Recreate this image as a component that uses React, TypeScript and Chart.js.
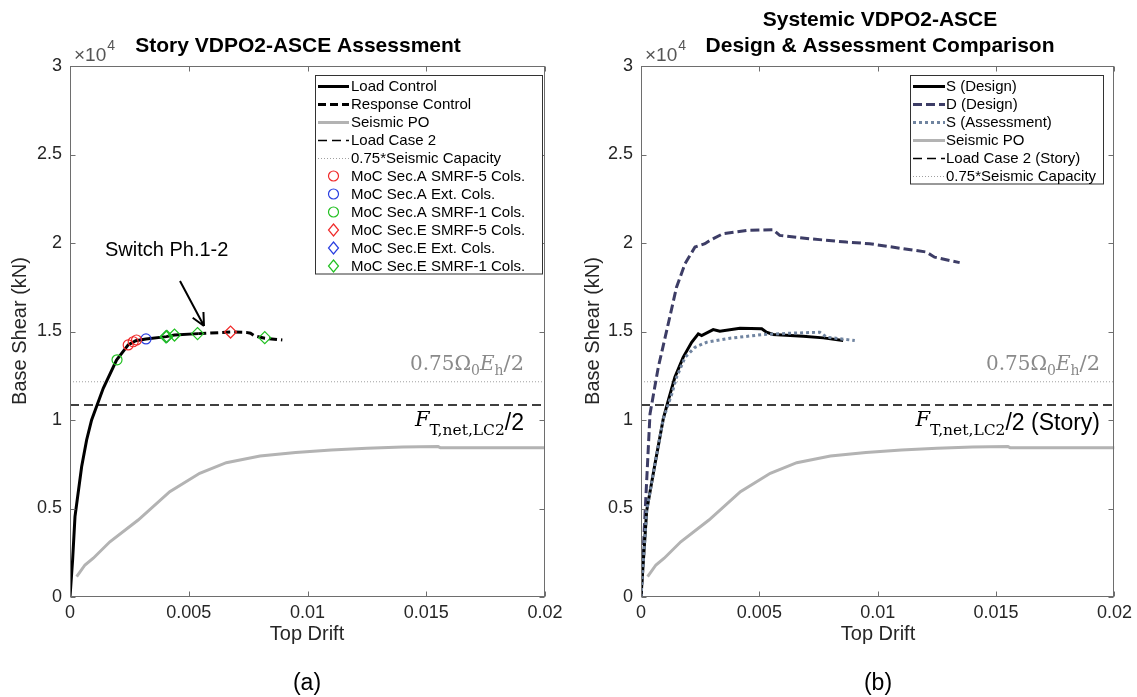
import React, { useEffect, useRef } from 'react';
import { Chart, registerables } from 'chart.js';
Chart.register(...registerables);

// ---------- axes ----------
const xTickValues = [0, 0.005, 0.01, 0.015, 0.02];
const xTickLabels = ['0', '0.005', '0.01', '0.015', '0.02'];
const yTickValues = [0, 5000, 10000, 15000, 20000, 25000, 30000];
const yTickLabels = ['0', '0.5', '1', '1.5', '2', '2.5', '3'];

// ---------- panel (a) ----------
const loadControlDrift = [0, 0.00011, 0.00021, 0.00049, 0.0007, 0.00091, 0.0014, 0.00196, 0.00245, 0.00277, 0.0032, 0.00406, 0.0044, 0.0054];
const loadControlShear = [0, 2090, 4540, 7360, 8870, 10000, 11790, 13390, 14240, 14480, 14580, 14710, 14800, 14880];
const responseControlDrift = [0.0054, 0.00676, 0.00742, 0.0076, 0.00777, 0.0082, 0.00894];
const responseControlShear = [14880, 14970, 14950, 14900, 14750, 14620, 14520];
const seismicPODrift = [0.00028, 0.00063, 0.00098, 0.00168, 0.00287, 0.0042, 0.00546, 0.00658, 0.008, 0.0095, 0.011, 0.0125, 0.014, 0.0155, 0.0156, 0.02];
const seismicPOShear = [1150, 1810, 2190, 3120, 4350, 5950, 6990, 7590, 7970, 8170, 8300, 8400, 8470, 8500, 8430, 8430];
const loadCase2Shear = 10850;
const seismicCapacityShear = 12160;

const secASmrf5Drift = [0.00245, 0.00266, 0.0028];
const secASmrf5Shear = [14240, 14420, 14520];
const secAExtDrift = [0.0032];
const secAExtShear = [14580];
const secASmrf1Drift = [0.00198];
const secASmrf1Shear = [13400];
const secESmrf5Drift = [0.00676];
const secESmrf5Shear = [14970];
const secEExtDrift = [0.00406];
const secEExtShear = [14710];
const secESmrf1Drift = [0.00404, 0.00408, 0.0044, 0.00537, 0.0082];
const secESmrf1Shear = [14700, 14720, 14800, 14880, 14650];

// ---------- panel (b) ----------
const sDesignDrift = [0, 0.00024, 0.00059, 0.00094, 0.00115, 0.00143, 0.00178, 0.00214, 0.00242, 0.00256, 0.00305, 0.00333, 0.00418, 0.0051, 0.0053, 0.00558, 0.00685, 0.0077, 0.00854];
const sDesignShear = [0, 4870, 7510, 10060, 11090, 12410, 13540, 14390, 14870, 14770, 15110, 15020, 15180, 15150, 14960, 14830, 14730, 14640, 14490];
const dDesignDrift = [0, 0.00017, 0.00038, 0.00073, 0.00115, 0.0015, 0.00186, 0.00228, 0.0027, 0.00291, 0.00347, 0.00446, 0.00558, 0.00586, 0.00713, 0.00868, 0.00966, 0.01107, 0.01205, 0.0124, 0.01346];
const dDesignShear = [0, 4680, 10340, 12980, 15430, 17500, 18830, 19770, 19960, 20150, 20530, 20710, 20750, 20430, 20240, 20050, 19960, 19680, 19490, 19200, 18890];
const sAssessDrift = [0, 0.00024, 0.00059, 0.00094, 0.0013, 0.0015, 0.00186, 0.00228, 0.00277, 0.00376, 0.00516, 0.00629, 0.00755, 0.00784, 0.00903];
const sAssessShear = [0, 4870, 7510, 10060, 11470, 12410, 13540, 14110, 14390, 14620, 14830, 14900, 14960, 14680, 14490];

const SANS = '"Liberation Sans", Arial, sans-serif';
const SERIF = '"DejaVu Serif", serif';
const TXT = '#262626';
const RED = '#f02a2a';
const GREEN = '#22c022';
const BLUE = '#2a3fe0';
const GRAY = '#b3b3b3';
const NAVY = '#3d3d66';
const SLATE = '#7084a0';

const pts = (xs: number[], ys: number[]) => xs.map((x, i) => ({ x, y: ys[i] }));
const hline = (v: number) => [{ x: 0, y: v }, { x: 0.02, y: v }];

const lineDs = (label: string, data: any[], color: string, width: number, dash: number[], order: number, rank: number) => ({
  label, data, showLine: true, borderColor: color, backgroundColor: color, borderWidth: width,
  borderDash: dash, pointRadius: 0, pointHoverRadius: 0, fill: false, tension: 0, order, legendRank: rank, legendKind: 'line',
});
const markDs = (label: string, data: any[], color: string, style: string, rank: number, order = 0) => ({
  label, data, showLine: false, borderColor: color, backgroundColor: 'rgba(0,0,0,0)',
  pointStyle: style, pointRadius: style === 'circle' ? 5 : 6, pointBorderWidth: 1.2, pointHoverRadius: 0,
  order, legendRank: rank, legendKind: style,
});

type Part = { t: string; f: string; dy?: number };
function drawRich(ctx: CanvasRenderingContext2D, parts: Part[], right: number, base: number, color: string) {
  let total = 0;
  for (const p of parts) { ctx.font = p.f; total += ctx.measureText(p.t).width; }
  let x = right - total;
  ctx.fillStyle = color; ctx.textAlign = 'left'; ctx.textBaseline = 'alphabetic';
  for (const p of parts) { ctx.font = p.f; ctx.fillText(p.t, x, base + (p.dy || 0)); x += ctx.measureText(p.t).width; }
}

const panelPlugin = {
  id: 'panel',
  afterDatasetsDraw(chart: any, _a: any, o: any) {
    const ctx: CanvasRenderingContext2D = chart.ctx;
    const a = chart.chartArea;
    const xs = chart.scales.x, ys = chart.scales.y;
    const ox = o.offsetX;
    ctx.save();
    // frame + inward ticks
    ctx.setLineDash([]);
    ctx.strokeStyle = '#6e6e6e';
    ctx.lineWidth = 1;
    const L = Math.round(a.left) + 0.5, R = Math.round(a.right) - 0.5, T = Math.round(a.top) + 0.5, B = Math.round(a.bottom) - 0.5;
    ctx.strokeRect(L, T, R - L, B - T);
    ctx.beginPath();
    for (const v of xTickValues) {
      const p = Math.round(xs.getPixelForValue(v)) + 0.5;
      ctx.moveTo(p, B); ctx.lineTo(p, B - 5); ctx.moveTo(p, T); ctx.lineTo(p, T + 5);
    }
    for (const v of yTickValues) {
      const p = Math.round(ys.getPixelForValue(v)) + 0.5;
      ctx.moveTo(L, p); ctx.lineTo(L + 5, p); ctx.moveTo(R, p); ctx.lineTo(R - 5, p);
    }
    ctx.stroke();

    // annotations
    drawRich(ctx, [
      { t: '0.75Ω', f: `20px ${SERIF}` }, { t: '0', f: `14px ${SERIF}`, dy: 5 },
      { t: 'E', f: `italic 20px ${SERIF}` }, { t: 'h', f: `14px ${SERIF}`, dy: 5 },
      { t: '/2', f: `21px ${SERIF}` },
    ], o.textRight - ox, 370, '#8a8a8a');
    drawRich(ctx, [
      { t: 'F', f: `italic 21px ${SERIF}` }, { t: 'T,net,LC2', f: `15.5px ${SERIF}`, dy: 9 },
      { t: o.fSuffix, f: `23px ${SANS}`, dy: 4 },
    ], o.textRight - ox, 426, '#000');

    if (o.arrow) {
      ctx.fillStyle = '#000';
      ctx.font = `20px ${SANS}`;
      ctx.textAlign = 'left'; ctx.textBaseline = 'alphabetic';
      ctx.fillText('Switch Ph.1-2', 105 - ox, 256);
      const x1 = 180 - ox, y1 = 281, x2 = 204 - ox, y2 = 326;
      const ang = Math.atan2(y2 - y1, x2 - x1);
      ctx.strokeStyle = '#000'; ctx.lineWidth = 2;
      ctx.beginPath(); ctx.moveTo(x1, y1); ctx.lineTo(x2, y2);
      for (const s of [-1, 1]) {
        ctx.moveTo(x2, y2);
        ctx.lineTo(x2 - 14 * Math.cos(ang + s * 0.45), y2 - 14 * Math.sin(ang + s * 0.45));
      }
      ctx.stroke();
    }

    // legend
    const lg = o.legend;
    const bx1 = lg.x1 - ox, bx2 = lg.x2 - ox;
    const items = chart.data.datasets.filter((d: any) => d.legendRank !== undefined && !d.legendSkip).sort((p: any, q: any) => p.legendRank - q.legendRank);
    const by2 = lg.y0 + 18 * (items.length - 1) + 7 + 0.5;
    ctx.fillStyle = '#fff';
    ctx.fillRect(bx1, lg.y1, bx2 - bx1, by2 - lg.y1);
    ctx.strokeStyle = '#333'; ctx.lineWidth = 1; ctx.setLineDash([]);
    ctx.strokeRect(bx1 + 0.5, lg.y1 + 0.5, bx2 - bx1, by2 - lg.y1);
    const lx1 = lg.l1 - ox, lx2 = lg.l2 - ox, mx = (lx1 + lx2) / 2;
    items.forEach((d: any, i: number) => {
      const y = lg.y0 + 18 * i;
      ctx.strokeStyle = d.borderColor;
      if (d.legendKind === 'line') {
        ctx.lineWidth = d.borderWidth; ctx.setLineDash(d.borderDash || []);
        ctx.beginPath(); ctx.moveTo(lx1, y + 0.5); ctx.lineTo(lx2, y + 0.5); ctx.stroke();
      } else if (d.legendKind === 'circle') {
        ctx.lineWidth = 1.2; ctx.setLineDash([]);
        ctx.beginPath(); ctx.arc(mx, y, 5, 0, Math.PI * 2); ctx.stroke();
      } else {
        ctx.lineWidth = 1.2; ctx.setLineDash([]);
        ctx.beginPath(); ctx.moveTo(mx, y - 6); ctx.lineTo(mx + 5, y); ctx.lineTo(mx, y + 6); ctx.lineTo(mx - 5, y); ctx.closePath(); ctx.stroke();
      }
      ctx.setLineDash([]);
      ctx.fillStyle = '#000'; ctx.font = `15px ${SANS}`; ctx.textAlign = 'left'; ctx.textBaseline = 'middle';
      ctx.fillText(d.label, lg.tx - ox, y + 1);
    });
    ctx.restore();
  },
  afterDraw(chart: any, _a: any, o: any) {
    const ctx: CanvasRenderingContext2D = chart.ctx;
    const ox = o.offsetX;
    ctx.save();
    ctx.fillStyle = '#000';
    ctx.font = `bold 21px ${SANS}`;
    ctx.textAlign = 'center'; ctx.textBaseline = 'alphabetic';
    o.title.forEach((t: string, i: number) => ctx.fillText(t, o.titleX - ox, 52 - (o.title.length - 1 - i) * 26));
    ctx.fillStyle = TXT;
    ctx.font = `20px ${SANS}`;
    ctx.textBaseline = 'middle';
    ctx.fillText('Top Drift', o.centerX - ox, 634);
    ctx.font = `23px ${SANS}`;
    ctx.fillStyle = '#000';
    ctx.fillText(o.tag, o.centerX - ox, 684);
    ctx.save();
    ctx.fillStyle = TXT;
    ctx.font = `20px ${SANS}`;
    ctx.translate(o.yTitleX - ox, 331);
    ctx.rotate(-Math.PI / 2);
    ctx.fillText('Base Shear (kN)', 0, 0);
    ctx.restore();
    // x10^4
    ctx.fillStyle = '#555';
    ctx.textAlign = 'left'; ctx.textBaseline = 'alphabetic';
    ctx.font = `19px ${SANS}`;
    const bx = o.areaLeft - ox + 4;
    ctx.fillText('×10', bx, 61);
    const w = ctx.measureText('×10').width;
    ctx.font = `14px ${SANS}`;
    ctx.fillText('4', bx + w + 1, 50);
    ctx.restore();
  },
};

function makeConfig(datasets: any[], panel: any, yWidth: number, padRight: number) {
  return {
    type: 'scatter',
    data: { datasets },
    options: {
      animation: false,
      responsive: false,
      events: [],
      layout: { padding: { left: 0, top: 66, right: padRight, bottom: 0 } },
      plugins: { legend: { display: false }, title: { display: false }, tooltip: { enabled: false }, panel },
      scales: {
        x: {
          type: 'linear', min: 0, max: 0.02,
          afterBuildTicks: (s: any) => { s.ticks = xTickValues.map((v) => ({ value: v })); },
          afterFit: (s: any) => { s.height = 100; },
          ticks: { callback: (_v: any, i: number) => xTickLabels[i], font: { size: 18, family: SANS }, color: TXT, padding: 5, maxRotation: 0, autoSkip: false },
          grid: { display: false, drawTicks: false },
          border: { display: false },
        },
        y: {
          type: 'linear', min: 0, max: 30000,
          afterBuildTicks: (s: any) => { s.ticks = yTickValues.map((v) => ({ value: v })); },
          afterFit: (s: any) => { s.width = yWidth; },
          ticks: { callback: (_v: any, i: number) => yTickLabels[i], font: { size: 18, family: SANS }, color: TXT, padding: 8, autoSkip: false },
          grid: { display: false, drawTicks: false },
          border: { display: false },
        },
      },
    },
    plugins: [panelPlugin],
  };
}

function Panel({ left, width, config }: { left: number; width: number; config: any }) {
  const ref = useRef<HTMLCanvasElement>(null);
  useEffect(() => {
    const chart = new Chart(ref.current as HTMLCanvasElement, config);
    return () => chart.destroy();
  }, []);
  return <canvas ref={ref} width={width} height={697} style={{ position: 'absolute', left, top: 0, width, height: 697 }} />;
}

export default function App() {
  const dsA = [
    markDs('MoC Sec.E SMRF-1 Cols.', pts(secESmrf1Drift, secESmrf1Shear), GREEN, 'rectRot', 10, -1),
    markDs('MoC Sec.A SMRF-5 Cols.', pts(secASmrf5Drift, secASmrf5Shear), RED, 'circle', 5),
    markDs('MoC Sec.A Ext. Cols.', pts(secAExtDrift, secAExtShear), BLUE, 'circle', 6),
    markDs('MoC Sec.A SMRF-1 Cols.', pts(secASmrf1Drift, secASmrf1Shear), GREEN, 'circle', 7),
    markDs('MoC Sec.E SMRF-5 Cols.', pts(secESmrf5Drift, secESmrf5Shear), RED, 'rectRot', 8),
    markDs('MoC Sec.E Ext. Cols.', pts(secEExtDrift, secEExtShear), BLUE, 'rectRot', 9),
    lineDs('Load Control', pts(loadControlDrift, loadControlShear), '#000', 3, [], 1, 0),
    lineDs('Response Control', pts(responseControlDrift, responseControlShear), '#000', 3, [8, 4], 1, 1),
    lineDs('Seismic PO', pts(seismicPODrift, seismicPOShear), GRAY, 3, [], 3, 2),
    lineDs('Load Case 2', hline(loadCase2Shear), '#000', 1.5, [9, 5], 2, 3),
    lineDs('0.75*Seismic Capacity', hline(seismicCapacityShear), '#a0a0a0', 1, [1, 2], 2, 4),
  ];
  const dsB = [
    lineDs('S (Design)', pts(sDesignDrift, sDesignShear), '#000', 3, [], 1, 0),
    lineDs('D (Design)', pts(dDesignDrift, dDesignShear), NAVY, 3, [9, 4], 1, 1),
    lineDs('S (Assessment)', pts(sAssessDrift, sAssessShear), SLATE, 3, [3, 3], 0, 2),
    lineDs('Seismic PO', pts(seismicPODrift, seismicPOShear), GRAY, 3, [], 3, 3),
    lineDs('Load Case 2 (Story)', hline(loadCase2Shear), '#000', 1.5, [9, 5], 2, 4),
    lineDs('0.75*Seismic Capacity', hline(seismicCapacityShear), '#a0a0a0', 1, [1, 2], 2, 5),
  ];
  const panelA = {
    offsetX: 0, textRight: 524, fSuffix: '/2', arrow: true,
    legend: { x1: 315, x2: 542, y1: 75, y0: 86, l1: 318, l2: 349, tx: 351 },
    title: ['Story VDPO2-ASCE Assessment'], titleX: 298, centerX: 307, tag: '(a)', yTitleX: 20, areaLeft: 70,
  };
  const panelB = {
    offsetX: 568, textRight: 1100, fSuffix: '/2 (Story)', arrow: false,
    legend: { x1: 910, x2: 1103, y1: 75, y0: 86, l1: 913, l2: 945, tx: 946 },
    title: ['Systemic VDPO2-ASCE', 'Design & Assessment Comparison'], titleX: 880, centerX: 878, tag: '(b)', yTitleX: 593, areaLeft: 641,
  };
  return (
    <div style={{ position: 'absolute', left: 0, top: 0, width: 1137, height: 697, background: '#fff', overflow: 'hidden' }}>
      <Panel left={0} width={568} config={makeConfig(dsA, panelA, 70, 23)} />
      <Panel left={568} width={569} config={makeConfig(dsB, panelB, 73, 22)} />
    </div>
  );
}
